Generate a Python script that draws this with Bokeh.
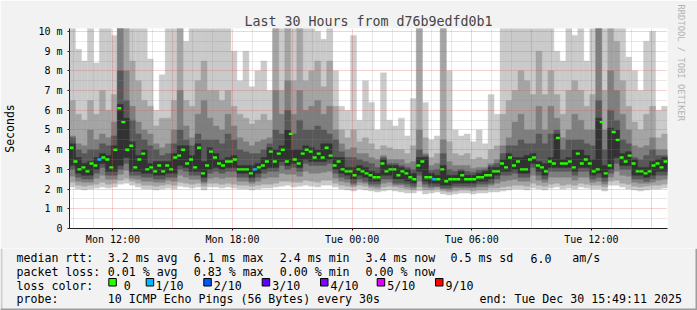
from datetime import datetime, timedelta
from bokeh.plotting import figure
from bokeh.models import Range1d, FixedTicker, Title
from bokeh.core.properties import value
from bokeh.embed import file_html
from bokeh.resources import INLINE

# ---------------- data ----------------
title_text = "Last 30 Hours from d76b9edfd0b1"
start_time = "2025-12-29 09:49:11"
end_time = "2025-12-30 15:49:11"
median_step_min = 12
smoke_step_min = 18

median_ms = [
    4.1, 3.4, 3.0, 3.1, 2.9, 3.3, 3.2, 3.5, 3.6, 3.5, 3.1, 4.0, 6.1, 5.4, 4.0, 4.2, 3.1, 3.5, 3.8, 3.0, 3.1, 2.9, 3.2, 2.9, 3.2,
    3.0, 3.6, 3.7, 4.0, 3.3, 3.5, 3.1, 4.1, 2.8, 3.2, 3.9, 3.6, 3.3, 3.2, 3.4, 3.4, 3.5, 3.0, 3.0, 3.0, 2.8, 3.0, 3.1, 3.2, 3.4,
    3.9, 3.4, 3.8, 4.0, 3.4, 4.8, 3.5, 3.3, 3.8, 4.0, 3.9, 3.6, 3.8, 3.6, 4.1, 3.7, 3.2, 3.4, 3.0, 2.9, 2.9, 2.7, 3.0, 2.9, 2.8,
    2.7, 2.6, 2.6, 3.3, 2.9, 3.0, 3.0, 2.7, 2.9, 2.8, 2.6, 2.5, 3.2, 3.4, 2.6, 2.6, 2.5, 2.5, 3.0, 2.4, 2.5, 2.5, 2.5, 2.7, 2.5,
    2.5, 2.5, 2.6, 2.6, 2.7, 2.7, 2.9, 2.9, 3.3, 3.1, 3.6, 3.2, 3.4, 3.0, 3.0, 3.5, 3.6, 3.2, 3.1, 2.9, 3.4, 3.3, 4.6, 3.3, 3.3,
    3.4, 3.1, 3.8, 3.3, 3.5, 3.3, 2.9, 3.0, 5.4, 2.8, 3.2, 4.9, 4.5, 3.6, 3.4, 3.7, 3.3, 2.9, 2.9, 2.8, 2.9, 3.2, 3.3, 3.1, 3.4,
]
loss_tenths = [0] * 7 + [1] + [0] * 38 + [1] + [0] * 44 + [1] + [0] * 58

p10 = [10.5, 9.1, 8.5, 10.5, 8.4, 10.5, 10.5, 9.8, 10.5, 10.5,
       10.5, 10.5, 10.5, 8.6, 6.0, 7.8, 10.5, 10.5, 10.5, 9.5,
       10.5, 10.5, 10.5, 10.5, 10.5, 10.5, 10.5, 9.0, 7.5, 9.0,
       7.2, 8.0, 8.5, 7.0, 10.5, 10.5, 10.5, 10.5, 10.5, 10.5,
       10.5, 10.0, 9.6, 10.5, 8.0, 6.2, 6.0, 9.8, 5.5, 7.5,
       6.4, 5.0, 7.9, 5.5, 5.2, 5.6, 4.7, 6.6, 10.5, 6.4,
       4.5, 4.7, 10.5, 8.0, 5.0, 4.7, 4.8, 4.4, 5.0, 4.3,
       6.8, 5.8, 10.5, 10.5, 10.5, 10.5, 10.5, 10.5, 10.5, 10.5,
       10.5, 9.0, 8.5, 10.5, 9.8, 10.5, 8.5, 10.5, 10.5, 10.5,
       10.5, 10.5, 10.5, 8.7, 8.0, 7.0, 9.5, 10.0, 6.0, 6.2]
p9 = [6.5, 5.8, 5.5, 6.5, 5.8, 7.0, 6.0, 6.8, 10.5, 10.5,
      8.5, 7.5, 6.5, 6.2, 5.2, 5.6, 5.6, 6.5, 10.5, 6.5,
      6.2, 7.5, 8.5, 7.0, 7.0, 6.5, 7.0, 6.2, 5.8, 5.6,
      5.3, 5.5, 5.8, 5.5, 10.5, 7.0, 10.5, 7.5, 10.5, 7.5,
      8.0, 8.5, 7.2, 8.5, 6.2, 5.0, 4.6, 5.0, 4.4, 4.6,
      4.3, 4.0, 4.2, 4.1, 4.0, 4.0, 3.8, 4.2, 10.5, 4.6,
      3.6, 3.8, 10.5, 4.4, 3.8, 3.7, 3.8, 3.5, 3.6, 3.5,
      4.0, 4.2, 5.8, 6.5, 7.0, 8.0, 7.5, 6.8, 9.0, 6.8,
      8.0, 6.8, 5.8, 7.0, 7.5, 7.0, 6.2, 6.8, 10.5, 7.0,
      10.5, 9.5, 7.5, 6.2, 5.4, 5.0, 5.8, 6.2, 4.6, 4.8]
p8 = [4.7, 4.3, 4.2, 5.0, 4.5, 4.8, 4.6, 5.4, 10.5, 8.0,
      6.2, 5.4, 5.0, 4.8, 4.3, 4.1, 4.3, 5.0, 7.0, 5.2,
      4.6, 5.8, 6.5, 5.6, 5.2, 5.0, 5.8, 5.2, 4.6, 4.4,
      4.2, 4.4, 4.5, 4.6, 7.0, 5.8, 7.5, 5.8, 7.0, 6.0,
      6.2, 6.5, 5.8, 6.2, 5.0, 4.3, 4.0, 4.1, 3.8, 3.8,
      3.6, 3.5, 3.7, 3.5, 3.5, 3.5, 3.3, 3.4, 5.0, 3.8,
      3.2, 3.3, 4.5, 3.4, 3.2, 3.2, 3.2, 3.05, 3.1, 3.1,
      3.3, 3.5, 4.2, 4.6, 5.4, 5.8, 5.0, 5.0, 6.2, 5.0,
      6.2, 5.6, 4.6, 5.0, 5.8, 5.5, 5.0, 5.0, 10.5, 5.0,
      8.0, 7.0, 5.8, 5.0, 4.2, 4.1, 4.2, 4.6, 4.0, 4.0]
p7 = [4.6, 4.0, 3.8, 4.0, 4.0, 4.3, 4.2, 4.7, 8.0, 6.5,
      5.5, 4.8, 4.5, 4.2, 4.0, 3.7, 3.8, 4.3, 5.0, 4.5,
      4.2, 4.8, 4.5, 4.5, 4.5, 4.3, 4.8, 4.5, 4.0, 3.9,
      3.8, 3.8, 4.0, 4.3, 5.0, 4.8, 6.0, 4.8, 5.5, 5.0,
      5.0, 5.2, 5.0, 4.8, 4.5, 3.9, 3.6, 3.6, 3.5, 3.4,
      3.3, 3.1, 3.6, 3.3, 3.3, 3.2, 3.1, 3.0, 4.0, 3.7,
      2.95, 3.0, 3.8, 3.0, 2.9, 3.0, 2.9, 2.85, 2.95, 3.0,
      3.2, 3.3, 3.8, 4.2, 4.2, 4.5, 4.3, 4.3, 4.8, 4.3,
      4.8, 5.0, 4.0, 4.5, 4.5, 4.5, 4.3, 4.2, 6.5, 4.0,
      6.0, 5.5, 4.5, 4.3, 3.6, 3.5, 3.7, 4.0, 3.7, 3.7]
p6 = [4.3, 3.6, 3.3, 3.4, 3.6, 3.8, 3.7, 4.2, 6.3, 5.6,
      4.4, 3.7, 4.0, 3.3, 3.4, 3.4, 3.4, 3.8, 4.2, 4.2,
      3.7, 4.3, 3.4, 4.1, 3.8, 3.5, 3.6, 3.7, 3.2, 3.2,
      3.2, 3.3, 3.6, 4.1, 4.0, 4.2, 5.0, 4.0, 4.0, 4.2,
      4.1, 4.0, 4.3, 4.3, 3.6, 3.6, 3.1, 3.1, 3.2, 3.1,
      2.9, 2.8, 3.5, 3.2, 3.2, 3.1, 3.0, 2.8, 3.6, 3.6,
      2.8, 2.7, 3.2, 2.7, 2.7, 2.9, 2.7, 2.7, 2.8, 2.9,
      3.1, 3.1, 3.5, 3.8, 3.6, 3.6, 3.7, 3.8, 3.4, 3.3,
      3.6, 4.8, 3.5, 3.6, 4.0, 4.0, 3.7, 3.5, 5.6, 3.2,
      5.1, 5.0, 3.8, 3.9, 3.5, 3.1, 3.1, 3.4, 3.5, 3.6]
p5 = [3.2, 2.8, 2.7, 2.7, 3.0, 3.3, 2.9, 2.9, 3.2, 3.6,
      2.9, 2.9, 2.8, 2.8, 2.7, 2.7, 2.8, 2.8, 3.2, 3.1,
      2.9, 2.9, 2.6, 3.0, 3.1, 3.0, 3.1, 3.1, 2.8, 2.8,
      2.6, 2.8, 3.0, 3.1, 3.1, 3.4, 3.2, 3.3, 3.1, 3.5,
      3.4, 3.4, 3.4, 3.5, 3.0, 2.8, 2.7, 2.5, 2.7, 2.6,
      2.4, 2.4, 2.7, 2.7, 2.5, 2.5, 2.4, 2.3, 2.9, 2.4,
      2.3, 2.3, 2.2, 2.2, 2.3, 2.3, 2.3, 2.3, 2.4, 2.4,
      2.5, 2.7, 2.9, 2.9, 3.0, 2.8, 2.8, 3.3, 2.9, 2.7,
      3.1, 3.1, 3.1, 3.1, 2.9, 3.1, 3.1, 2.7, 2.8, 2.6,
      3.0, 3.6, 3.2, 3.2, 2.7, 2.7, 2.6, 2.7, 2.9, 2.9]
p4 = [3.0, 2.6, 2.5, 2.5, 2.8, 3.1, 2.7, 2.7, 3.0, 3.3,
      2.7, 2.7, 2.6, 2.6, 2.5, 2.5, 2.6, 2.6, 3.0, 2.9,
      2.7, 2.7, 2.4, 2.8, 2.9, 2.8, 2.9, 2.9, 2.6, 2.6,
      2.4, 2.6, 2.8, 2.9, 2.9, 3.2, 3.0, 3.1, 2.9, 3.3,
      3.2, 3.2, 3.2, 3.3, 2.8, 2.6, 2.5, 2.3, 2.5, 2.4,
      2.25, 2.25, 2.5, 2.5, 2.3, 2.3, 2.25, 2.15, 2.7, 2.25,
      2.15, 2.15, 2.05, 2.05, 2.15, 2.15, 2.15, 2.15, 2.25, 2.25,
      2.3, 2.5, 2.7, 2.7, 2.8, 2.6, 2.6, 3.1, 2.7, 2.5,
      2.9, 2.9, 2.9, 2.9, 2.7, 2.9, 2.9, 2.5, 2.6, 2.4,
      2.8, 3.3, 3.0, 3.0, 2.5, 2.5, 2.4, 2.5, 2.7, 2.7]
p3 = [2.65, 2.4, 2.35, 2.35, 2.55, 2.7, 2.5, 2.5, 2.75, 2.95,
      2.55, 2.5, 2.4, 2.4, 2.35, 2.35, 2.45, 2.4, 2.7, 2.6,
      2.5, 2.5, 2.3, 2.55, 2.6, 2.55, 2.6, 2.6, 2.4, 2.4,
      2.3, 2.4, 2.55, 2.6, 2.6, 2.8, 2.75, 2.75, 2.65, 2.9,
      2.8, 2.8, 2.85, 2.9, 2.55, 2.4, 2.35, 2.2, 2.35, 2.3,
      2.15, 2.1, 2.3, 2.35, 2.2, 2.2, 2.1, 2.05, 2.4, 2.1,
      2.05, 2.1, 2.0, 1.95, 2.05, 2.05, 2.05, 2.05, 2.1, 2.1,
      2.2, 2.3, 2.4, 2.45, 2.5, 2.4, 2.4, 2.7, 2.45, 2.35,
      2.6, 2.6, 2.6, 2.6, 2.45, 2.6, 2.6, 2.35, 2.4, 2.25,
      2.6, 2.9, 2.7, 2.65, 2.35, 2.3, 2.3, 2.35, 2.45, 2.5]
p2 = [2.35, 2.2, 2.15, 2.2, 2.25, 2.35, 2.25, 2.3, 2.45, 2.55,
      2.4, 2.3, 2.2, 2.2, 2.15, 2.2, 2.25, 2.2, 2.35, 2.3,
      2.25, 2.3, 2.15, 2.3, 2.3, 2.25, 2.3, 2.25, 2.2, 2.2,
      2.15, 2.2, 2.25, 2.25, 2.3, 2.4, 2.4, 2.35, 2.35, 2.45,
      2.4, 2.35, 2.45, 2.45, 2.3, 2.2, 2.15, 2.1, 2.2, 2.15,
      2.05, 2.0, 2.1, 2.15, 2.1, 2.05, 2.0, 1.95, 2.1, 1.95,
      1.95, 2.0, 1.9, 1.85, 1.9, 1.95, 1.95, 1.9, 1.95, 1.95,
      2.05, 2.05, 2.1, 2.15, 2.2, 2.2, 2.15, 2.3, 2.2, 2.15,
      2.25, 2.3, 2.2, 2.25, 2.2, 2.3, 2.25, 2.2, 2.2, 2.1,
      2.4, 2.45, 2.3, 2.25, 2.15, 2.1, 2.15, 2.2, 2.2, 2.25]
p1 = [2.1, 2.0, 1.95, 2.0, 2.05, 2.1, 2.05, 2.1, 2.25, 2.3,
      2.2, 2.1, 2.0, 2.0, 1.95, 2.0, 2.05, 2.0, 2.15, 2.1,
      2.05, 2.1, 1.95, 2.1, 2.1, 2.05, 2.1, 2.05, 2.0, 2.0,
      1.95, 2.0, 2.05, 2.05, 2.1, 2.15, 2.2, 2.1, 2.15, 2.2,
      2.15, 2.1, 2.2, 2.2, 2.1, 2.0, 1.95, 1.9, 2.0, 1.95,
      1.9, 1.85, 1.9, 1.95, 1.9, 1.85, 1.8, 1.8, 1.9, 1.75,
      1.8, 1.85, 1.75, 1.7, 1.75, 1.8, 1.8, 1.75, 1.8, 1.8,
      1.85, 1.85, 1.9, 1.95, 2.0, 2.0, 1.95, 2.05, 2.0, 1.95,
      2.05, 2.1, 2.0, 2.05, 2.0, 2.1, 2.05, 2.0, 2.0, 1.9,
      2.2, 2.2, 2.1, 2.0, 1.95, 1.9, 1.95, 2.0, 2.0, 2.05]

y_tick_values = [0, 1, 2, 3, 4, 5, 6, 7, 8, 9, 10]
y_tick_labels = ["0", "1 m", "2 m", "3 m", "4 m", "5 m", "6 m", "7 m", "8 m", "9 m", "10 m"]
x_tick_times = ["2025-12-29 12:00", "2025-12-29 18:00", "2025-12-30 00:00",
                "2025-12-30 06:00", "2025-12-30 12:00"]
x_tick_labels = ["Mon 12:00", "Mon 18:00", "Tue 00:00", "Tue 06:00", "Tue 12:00"]

loss_levels = [0, 1, 2, 3, 4, 5, 9]
loss_labels = ["0", "1/10", "2/10", "3/10", "4/10", "5/10", "9/10"]
loss_colors = ["#26ff00", "#00b8ff", "#0059ff", "#5e00ff", "#7e00ff", "#dd00ff", "#ff0000"]

stat_rtt = ["3.2 ms avg", "6.1 ms max", "2.4 ms min", "3.4 ms now", "0.5 ms sd", "6.0", "am/s"]
stat_loss = ["0.01 % avg", "0.83 % max", "0.00 % min", "0.00 % now"]
probe_text = "10 ICMP Echo Pings (56 Bytes) every 30s"
end_text = "end: Tue Dec 30 15:49:11 2025"
watermark = "RRDTOOL / TOBI OETIKER"

EPOCH = datetime(1970, 1, 1)


def to_ms(dt):
    return (dt - EPOCH).total_seconds() * 1000.0


t_start = datetime.strptime(start_time, "%Y-%m-%d %H:%M:%S")
t_end = datetime.strptime(end_time, "%Y-%m-%d %H:%M:%S")

FONT = "DejaVu Sans Mono"
BG = "#f2f2f2"
W = 697
H_TOP, H_BOT = 248, 62

# ================= main chart =================
p = figure(width=W, height=H_TOP, output_backend="svg", toolbar_location=None,
           x_range=Range1d(to_ms(t_start), to_ms(t_end)), y_range=Range1d(0, 10.15),
           min_border_left=67, min_border_right=30, min_border_top=28, min_border_bottom=20)
p.background_fill_color = "#ffffff"
p.border_fill_color = BG
p.outline_line_color = None
p.title.text = title_text
p.title.text_font = FONT
p.title.text_font_size = "13.3px"
p.title.text_font_style = "normal"
p.title.align = "center"
p.title.offset = -18.5
p.title.standoff = 0

smoke_left = [to_ms(t_start + timedelta(minutes=smoke_step_min * i)) for i in range(len(p10))]
smoke_right = [to_ms(t_start + timedelta(minutes=smoke_step_min * (i + 1))) for i in range(len(p10))]
bands = [(p1, p10, "#cacaca"), (p2, p9, "#a4a4a4"), (p3, p8, "#7e7e7e"),
         (p4, p7, "#585858"), (p5, p6, "#323232")]
for lo, hi, col in bands:
    p.quad(left=smoke_left, right=smoke_right, bottom=lo, top=hi,
           fill_color=col, line_color=col, line_width=0.4)


def loss_color(n):
    c = loss_colors[0]
    for lvl, col in zip(loss_levels, loss_colors):
        if n >= lvl:
            c = col
    return c


med_x = [to_ms(t_start + timedelta(minutes=median_step_min * (j + 0.5))) for j in range(len(median_ms))]
med_w = median_step_min * 60 * 1000.0
p.rect(x=med_x, y=median_ms, width=med_w, height=2.4, height_units="screen",
       fill_color=[loss_color(n) for n in loss_tenths], line_color=None)

p.yaxis.ticker = FixedTicker(ticks=y_tick_values)
p.yaxis.major_label_overrides = dict(zip(y_tick_values, y_tick_labels))
x_tick_ms = [to_ms(datetime.strptime(s, "%Y-%m-%d %H:%M")) for s in x_tick_times]
p.xaxis.ticker = FixedTicker(ticks=x_tick_ms)
p.xaxis.major_label_overrides = dict(zip(x_tick_ms, x_tick_labels))

for ax in (p.xaxis[0], p.yaxis[0]):
    ax.major_label_text_font = FONT
    ax.major_label_text_font_size = "10px"
    ax.major_label_text_color = "#000000"
    ax.axis_line_color = "#1f1f1f"
    ax.major_tick_line_color = "#1f1f1f"
    ax.major_tick_out = 2
    ax.major_tick_in = 0
    ax.minor_tick_line_color = None
p.xaxis.major_label_standoff = 3
p.yaxis.major_label_standoff = 5
p.yaxis.axis_label = "Seconds"
p.yaxis.axis_label_text_font = FONT
p.yaxis.axis_label_text_font_size = "11.5px"
p.yaxis.axis_label_text_font_style = "normal"
p.yaxis.axis_label_text_color = "#000000"
p.yaxis.axis_label_standoff = 18

hour0 = t_start.replace(minute=0, second=0) + timedelta(hours=1)
hours = []
h = hour0
while h < t_end:
    hours.append(h)
    h += timedelta(hours=1)
x_major = [to_ms(h) for h in hours if h.hour % 3 == 0]
x_minor = [to_ms(h) for h in hours if h.hour % 3 != 0]
p.xgrid.ticker = FixedTicker(ticks=x_major, minor_ticks=x_minor)
p.ygrid.ticker = FixedTicker(ticks=y_tick_values, minor_ticks=[v + 0.5 for v in y_tick_values[:-1]])
for g in (p.xgrid[0], p.ygrid[0]):
    g.level = "overlay"
    g.grid_line_color = "#de4f4f"
    g.grid_line_alpha = 0.5
    g.grid_line_dash = "1 1"
    g.minor_grid_line_color = "#8f8f8f"
    g.minor_grid_line_alpha = 0.4
    g.minor_grid_line_dash = "1 1"

p.add_layout(Title(text=watermark, align="left", text_font=FONT, text_font_size="8.8px",
                   text_font_style="normal", text_color="#b4b4b4", standoff=16, offset=-24), "right")

# ================= legend strip (separate root, coordinates are page pixels) =================
q = figure(width=W, height=H_BOT, output_backend="svg", toolbar_location=None, title=None,
           x_range=Range1d(0, W), y_range=Range1d(H_TOP + H_BOT, H_TOP),
           x_axis_type=None, y_axis_type=None,
           min_border_left=0, min_border_right=0, min_border_top=0, min_border_bottom=0)
q.background_fill_color = BG
q.border_fill_color = BG
q.outline_line_color = None

rows_y = [257.8, 271.5, 285.2, 298.9]
tx, ty, tt = [], [], []


def put(x, y, s):
    tx.append(x)
    ty.append(y)
    tt.append(s)


put(16, rows_y[0], "median rtt:")
for s, x in zip(stat_rtt, [107.3, 193.3, 279.3, 365, 450, 530, 571.7]):
    put(x, rows_y[0], s)
put(16, rows_y[1], "packet loss:")
for s, x in zip(stat_loss, [107.3, 193.3, 279.3, 365]):
    put(x, rows_y[1], s)
put(16, rows_y[2], "loss color:")
box_x = [108.3, 145.7, 203.3, 261.7, 320, 376.7, 435]
lab_x = [123.3, 155, 213.3, 271.7, 330, 386.7, 445]
for lx, lab in zip(lab_x, loss_labels):
    put(lx, rows_y[2], lab)
put(16, rows_y[3], "probe:")
put(107.3, rows_y[3], probe_text)
put(479, rows_y[3], end_text)

q.text(x=tx, y=ty, text=tt, text_font=value(FONT), text_font_size=value("11.6px"),
       text_color="#000000", text_align=value("left"), text_baseline=value("alphabetic"))
q.quad(left=box_x, right=[b + 7.5 for b in box_x], top=[278.0] * len(box_x),
       bottom=[285.5] * len(box_x), fill_color=loss_colors, line_color="#000000", line_width=1)

q.quad(left=[0, W - 2, 0], right=[2, W, W], top=[H_TOP, H_TOP, H_TOP + H_BOT - 2],
       bottom=[H_TOP + H_BOT, H_TOP + H_BOT, H_TOP + H_BOT],
       fill_color=["#cecece", "#9e9e9e", "#9e9e9e"], line_color=None)

open("out.html", "w").write(file_html([p, q], INLINE))
